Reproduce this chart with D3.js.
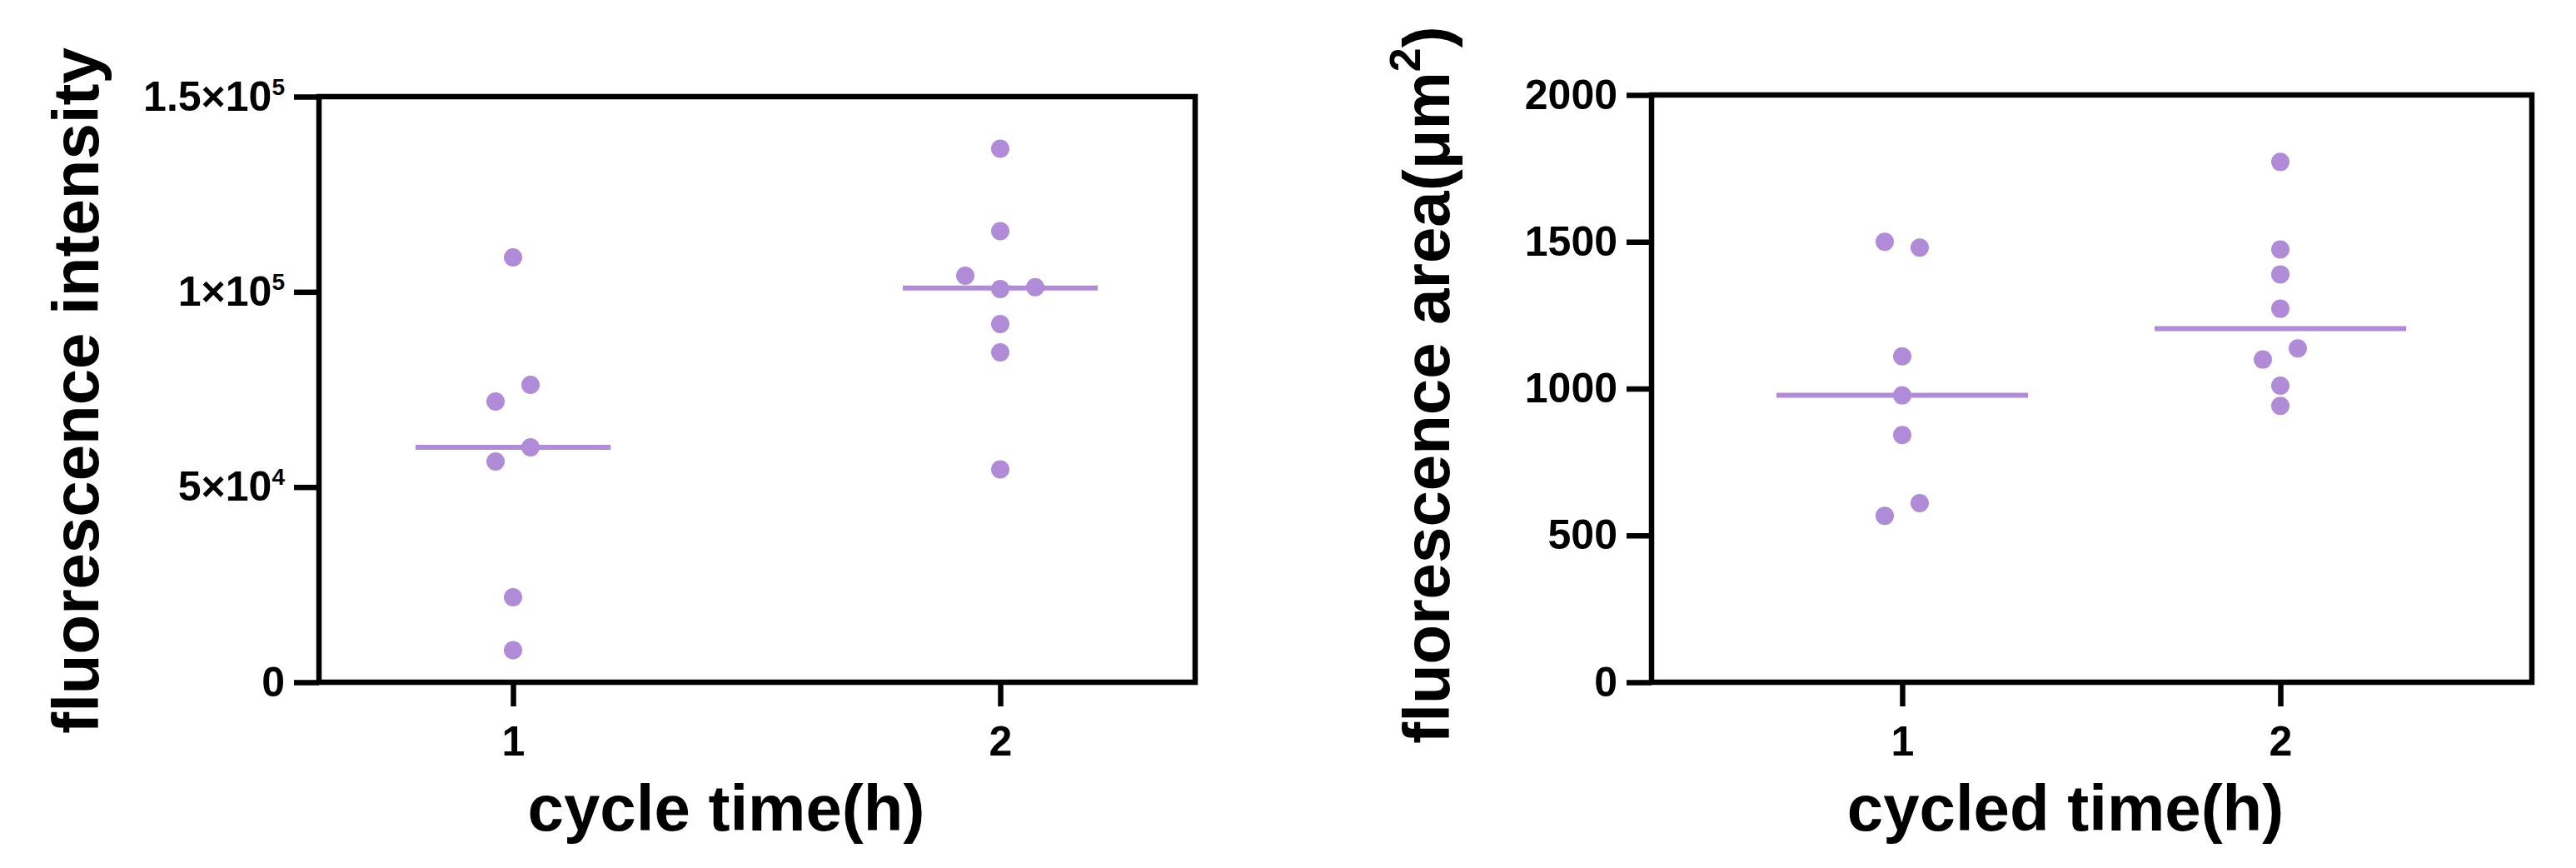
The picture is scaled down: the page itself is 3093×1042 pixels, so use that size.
<!DOCTYPE html>
<html>
<head>
<meta charset="utf-8">
<script src="https://cdn.jsdelivr.net/npm/d3@7"></script>
<style>
  body { margin: 0; background: #fff; }
  text { font-family: "Liberation Sans", Arial, sans-serif; font-weight: bold; fill: #000; }
</style>
</head>
<body>
<div id="main"></div>
<script>
// data

const groups = ['1', '2'];

const intensity1 = [108820, 71900, 76170, 56540, 60170, 21760, 8210];
const intensity2 = [136660, 115540, 104120, 100710, 101200, 91750, 84500, 54500];
const intensityTicks = [0, 50000, 100000, 150000];
const intensityTickLabels = ['0', '5×10^4', '1×10^5', '1.5×10^5'];

const area1 = [1500, 1480, 1110, 977, 842, 567, 610];
const area2 = [1772, 1474, 1389, 1272, 1099, 1137, 1010, 941];
const areaTicks = [0, 500, 1000, 1500, 2000];
const areaTickLabels = ['0', '500', '1000', '1500', '2000'];

// SVG

const w = 3093;
const h = 1042;
const bottom = 819;

const dotColor = '#b08cd8';
const r = 11;
const lineW = 6.5;

const svg = d3.select('#main')
    .append('svg')
    .attr('width', w)
    .attr('height', h)

svg.append('rect')
    .attr('width', w)
    .attr('height', h)
    .attr('fill', '#fff')

// spread overlapping dots sideways, the way the plotting program lays them out
const swarm = (values, y, diam, step) => {
    const idx = values.map((v, i) => i).sort((a, b) => y(values[a]) - y(values[b]));
    const off = values.map(() => 0);
    let cluster = [idx[0]];
    const flush = () => {
        cluster.sort((a, b) => a - b);
        cluster.forEach((k, j) => off[k] = (j - (cluster.length - 1) / 2) * step);
    };
    for (let i = 1; i < idx.length; i++) {
        if (y(values[idx[i]]) - y(values[idx[i - 1]]) < diam) {
            cluster.push(idx[i]);
        } else {
            flush();
            cluster = [idx[i]];
        }
    }
    flush();
    return off;
}

const drawPanel = (o) => {
    const g = svg.append('g');

    const x = d3.scalePoint().domain(groups).range(o.xRange);
    const y = d3.scaleLinear().domain([0, o.yMax]).range([bottom, o.top]);

    const series = [o.data1, o.data2];

    // medians
    g.selectAll('line.median')
        .data(series)
        .enter()
        .append('line')
        .attr('class', 'median')
        .attr('x1', (d, i) => x(groups[i]) - o.halfLine)
        .attr('x2', (d, i) => x(groups[i]) + o.halfLine)
        .attr('y1', (d) => y(d3.median(d)))
        .attr('y2', (d) => y(d3.median(d)))
        .attr('stroke', dotColor)
        .attr('stroke-width', 6)

    // dots
    series.forEach((vals, i) => {
        const off = swarm(vals, y, 2 * r, 42);
        g.selectAll('circle.g' + i)
            .data(vals)
            .enter()
            .append('circle')
            .attr('class', 'g' + i)
            .attr('cx', (d, j) => x(groups[i]) + off[j])
            .attr('cy', (d) => y(d))
            .attr('r', r)
            .attr('fill', dotColor)
    })

    // frame
    g.append('rect')
        .attr('x', o.left)
        .attr('y', o.top)
        .attr('width', o.right - o.left)
        .attr('height', bottom - o.top)
        .attr('fill', 'none')
        .attr('stroke', '#000')
        .attr('stroke-width', lineW)

    // y axis
    const yAxis = g.append('g')
        .attr('transform', `translate(${o.left},0)`)
        .call(d3.axisLeft(y)
            .tickValues(o.ticks)
            .tickSize(30)
            .tickSizeOuter(0)
            .tickPadding(11)
            .tickFormat(() => ''))
    yAxis.select('.domain').remove();
    yAxis.selectAll('.tick line').attr('stroke', '#000').attr('stroke-width', lineW);
    yAxis.selectAll('.tick text')
        .style('font-size', '50px')
        .each(function (d, i) {
            const parts = o.tickLabels[i].split('^');
            const t = d3.select(this);
            t.append('tspan').text(parts[0]);
            if (parts[1]) {
                t.append('tspan')
                    .attr('dy', -19)
                    .style('font-size', '28px')
                    .text(parts[1]);
            }
        })

    // x axis
    const xAxis = g.append('g')
        .attr('transform', `translate(0,${bottom})`)
        .call(d3.axisBottom(x)
            .tickSize(29)
            .tickSizeOuter(0)
            .tickPadding(23))
    xAxis.select('.domain').remove();
    xAxis.selectAll('.tick line').attr('stroke', '#000').attr('stroke-width', lineW);
    xAxis.selectAll('.tick text').style('font-size', '50px');

    // axis titles
    g.append('text')
        .attr('x', o.xTitleX)
        .attr('y', 997)
        .attr('text-anchor', 'middle')
        .style('font-size', '78px')
        .text(o.xTitle)

    const yt = g.append('text')
        .attr('transform', `translate(${o.yTitleX},${o.yTitleY}) rotate(-90)`)
        .attr('text-anchor', 'middle')
        .style('font-size', '78px')
    yt.append('tspan').text(o.yTitle[0]);
    if (o.yTitle.length > 1) {
        yt.append('tspan').attr('dy', -35).style('font-size', '52px').text(o.yTitle[1]);
        yt.append('tspan').attr('dy', 35).text(o.yTitle[2]);
    }
}

drawPanel({
    data1: intensity1,
    data2: intensity2,
    yMax: 150000,
    ticks: intensityTicks,
    tickLabels: intensityTickLabels,
    left: 383,
    right: 1435,
    top: 116,
    xRange: [616, 1201],
    halfLine: 117,
    xTitle: 'cycle time(h)',
    xTitleX: 872,
    yTitle: ['fluorescence intensity'],
    yTitleX: 118,
    yTitleY: 469
})

drawPanel({
    data1: area1,
    data2: area2,
    yMax: 2000,
    ticks: areaTicks,
    tickLabels: areaTickLabels,
    left: 1983,
    right: 3040,
    top: 114,
    xRange: [2284, 2738],
    halfLine: 151,
    xTitle: 'cycled time(h)',
    xTitleX: 2480,
    yTitle: ['fluorescence area(μm', '2', ')'],
    yTitleX: 1740,
    yTitleY: 462
})
</script>
</body>
</html>
